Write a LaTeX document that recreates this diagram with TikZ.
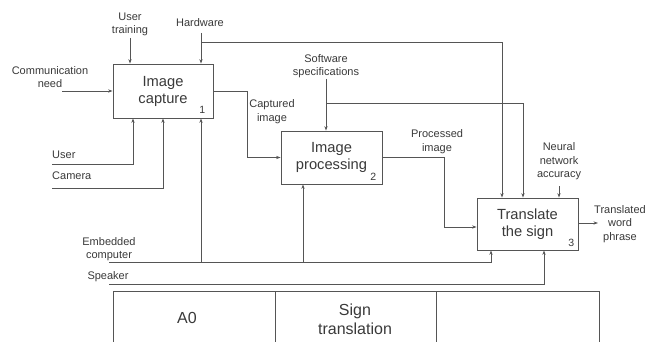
\documentclass[tikz,border=0pt]{standalone}
\usepackage{fontspec}
\setmainfont{Liberation Sans}
\usetikzlibrary{arrows.meta}
\definecolor{linegray}{HTML}{555555}
\definecolor{txtgray}{HTML}{3A3A3A}
\begin{document}
\begin{tikzpicture}[x=1pt,y=-1pt,
  wire/.style={draw=linegray,line width=0.8pt},
  arr/.style={wire,-{Stealth[length=4.5pt,width=3.2pt]}},
  lbl/.style={text=txtgray,font=\fontsize{11}{13.5}\selectfont,align=center,inner sep=0pt},
  func/.style={draw=linegray,line width=0.8pt,text=txtgray,
    font=\fontsize{14.7}{17}\selectfont,align=center,inner sep=0pt},
  num/.style={text=txtgray,font=\fontsize{10.5}{12}\selectfont,inner sep=0pt,anchor=south east},
  frametxt/.style={text=txtgray,font=\fontsize{16}{19}\selectfont,align=center,inner sep=0pt}]
\useasboundingbox (0,0) rectangle (647,342);
\fill[white] (0,0) rectangle (647,342);

% activity boxes
\node[func,minimum width=100pt,minimum height=54pt] (b1) at (163,91) {Image\\capture};
\node[func,minimum width=101pt,minimum height=53pt] (b2) at (331.5,157.5) {Image\\processing};
\node[func,minimum width=101pt,minimum height=52pt] (b3) at (527.5,224) {Translate\\the sign};
\node[num] (n1) at ([shift={(-8,-5)}]b1.south east) {1};
\node[num] (n2) at ([shift={(-6,-4)}]b2.south east) {2};
\node[num] (n3) at ([shift={(-4,-4)}]b3.south east) {3};

% labels
\node[lbl] (lcn) at (50,77) {Communication\\need};
\node[lbl] (lut) at (130,24.5) {User\\training};
\node[lbl] (lhw) at (200,23) {Hardware};
\node[lbl] (lsw) at (326,66) {Software\\specifications};
\node[lbl] (lnn) at (559,161.5) {Neural\\network\\accuracy};
\node[lbl] (lci) at (272,111.5) {Captured\\image};
\node[lbl] (lpi) at (437,141.5) {Processed\\image};
\node[lbl,anchor=west] (lus) at (52,155) {User};
\node[lbl,anchor=west] (lca) at (52,176) {Camera};
\node[lbl] (lec) at (109,249) {Embedded\\computer};
\node[lbl] (lsp) at (108,277) {Speaker};
\node[lbl] (ltw) at (620,224) {Translated\\word\\phrase};

% inputs
\coordinate (cnS) at (62,91);
\draw[arr] (cnS) -- (b1.west |- cnS);

% controls
\coordinate (utS) at (130,38);
\draw[arr] (utS) -- (utS |- b1.north);
\coordinate (hwS) at (201,33);
\coordinate (hwJ) at (201,42);
\coordinate (hwC) at (502,42);
\draw[arr] (hwS) -- (hwS |- b1.north);
\draw[arr] (hwJ) -- (hwC) -- (hwC |- b3.north);
\coordinate (swS) at (326,79);
\coordinate (swJ) at (326,103);
\coordinate (swC) at (523,103);
\draw[arr] (swS) -- (swS |- b2.north);
\draw[arr] (swJ) -- (swC) -- (swC |- b3.north);
\coordinate (nnS) at (559,186);
\draw[arr] (nnS) -- (nnS |- b3.north);

% flows between activities
\coordinate (ciC) at (247,91);
\draw[arr] (b1.east |- ciC) -- (ciC) |- (b2.west);
\coordinate (piC) at (444,227);
\draw[arr] (b2.east) -| (piC) -- (b3.west |- piC);

% output
\coordinate (outE) at (598,223);
\draw[arr] (b3.east |- outE) -- (outE);

% mechanisms
\coordinate (usS) at (52,164);
\coordinate (usC) at (133,164);
\draw[arr] (usS) -- (usC) -- (usC |- b1.south);
\coordinate (caS) at (52,188);
\coordinate (caC) at (163,188);
\draw[arr] (caS) -- (caC) -- (caC |- b1.south);
\coordinate (ecS) at (109,262);
\coordinate (ecC) at (491,262);
\coordinate (ec1) at (201,262);
\coordinate (ec2) at (303,262);
\draw[arr] (ecS) -- (ecC) -- (ecC |- b3.south);
\draw[arr] (ec1) -- (ec1 |- b1.south);
\draw[arr] (ec2) -- (ec2 |- b2.south);
\coordinate (spS) at (109,284);
\coordinate (spC) at (544,284);
\draw[arr] (spS) -- (spC) -- (spC |- b3.south);

% title frame
\draw[wire] (113,342) -- (113,291) -- (599,291) -- (599,342);
\draw[wire] (275,291) -- (275,342);
\draw[wire] (436,291) -- (436,342);
\node[frametxt] (fa) at (187,318) {A0};
\node[frametxt] (ft) at (355,319) {Sign\\translation};
\end{tikzpicture}
\end{document}
